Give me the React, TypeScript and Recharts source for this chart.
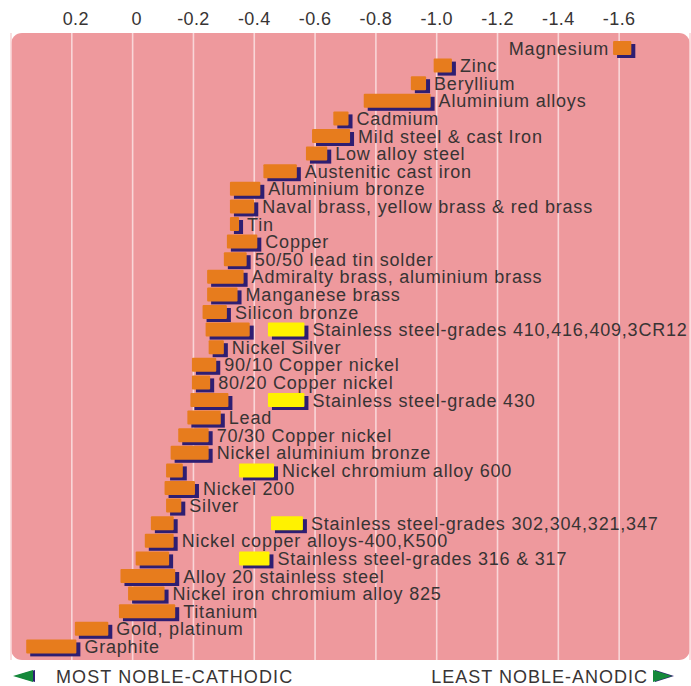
import React from 'react';
import { BarChart, Bar, XAxis, YAxis, CartesianGrid } from 'recharts';

const MATERIALS = [
  'Magnesium',
  'Zinc',
  'Beryllium',
  'Aluminium alloys',
  'Cadmium',
  'Mild steel & cast Iron',
  'Low alloy steel',
  'Austenitic cast iron',
  'Aluminium bronze',
  'Naval brass, yellow brass & red brass',
  'Tin',
  'Copper',
  '50/50 lead tin solder',
  'Admiralty brass, aluminium brass',
  'Manganese brass',
  'Silicon bronze',
  'Stainless steel-grades 410,416,409,3CR12',
  'Nickel Silver',
  '90/10 Copper nickel',
  '80/20 Copper nickel',
  'Stainless steel-grade 430',
  'Lead',
  '70/30 Copper nickel',
  'Nickel aluminium bronze',
  'Nickel chromium alloy 600',
  'Nickel 200',
  'Silver',
  'Stainless steel-grades 302,304,321,347',
  'Nickel copper alloys-400,K500',
  'Stainless steel-grades 316 & 317',
  'Alloy 20 stainless steel',
  'Nickel iron chromium alloy 825',
  'Titanium',
  'Gold, platinum',
  'Graphite',
];

// Potential range (V), noble end
const RANGE_START = [
  -1.58, -0.99, -0.915, -0.76, -0.66, -0.59, -0.57, -0.43, -0.32, -0.32,
  -0.32, -0.31, -0.30, -0.245, -0.245, -0.23, -0.24, -0.25, -0.195, -0.195,
  -0.19, -0.18, -0.15, -0.125, -0.11, -0.105, -0.11, -0.06, -0.04, -0.01,
  0.04, 0.015, 0.045, 0.19, 0.35,
];
// Potential range (V), active end
const RANGE_END = [
  -1.64, -1.05, -0.965, -0.98, -0.71, -0.715, -0.64, -0.54, -0.42, -0.40,
  -0.35, -0.41, -0.375, -0.365, -0.345, -0.31, -0.385, -0.30, -0.275, -0.255,
  -0.315, -0.29, -0.25, -0.25, -0.165, -0.205, -0.16, -0.135, -0.135, -0.12,
  -0.14, -0.105, -0.14, 0.08, 0.185,
];
// Active (crevice) state of stainless steels
const ACTIVE_START: (number | null)[] = [
  null, null, null, null, null, null, null, null, null, null,
  null, null, null, null, null, null, -0.445, null, null, null,
  -0.445, null, null, null, -0.35, null, null, -0.455, null, -0.35,
  null, null, null, null, null,
];
const ACTIVE_END: (number | null)[] = [
  null, null, null, null, null, null, null, null, null, null,
  null, null, null, null, null, null, -0.565, null, null, null,
  -0.565, null, null, null, -0.465, null, null, -0.56, null, -0.45,
  null, null, null, null, null,
];

const TICK_VALUES = [0.2, 0, -0.2, -0.4, -0.6, -0.8, -1.0, -1.2, -1.4, -1.6];
const TICK_LABELS = ['0.2', '0', '-0.2', '-0.4', '-0.6', '-0.8', '-1.0', '-1.2', '-1.4', '-1.6'];

const LEFT_CAPTION = 'MOST NOBLE-CATHODIC';
const RIGHT_CAPTION = 'LEAST NOBLE-ANODIC';

const data = MATERIALS.map((name, i) => ({
  name,
  passive: [RANGE_START[i], RANGE_END[i]],
  active: ACTIVE_START[i] == null ? null : [ACTIVE_START[i], ACTIVE_END[i]],
}));

const FONT = '"Liberation Sans", Arial, Helvetica, sans-serif';
const PANEL = '#EE999D';
const ORANGE = '#E77C1D';
const YELLOW = '#FFF200';
const SHADOW = '#2E1E72';
const TEXT = '#383434';
const GREEN = '#14893A';

const makeShape = (fill: string, kind: 'passive' | 'active') => (props: any) => {
  const { x, y, width, height } = props;
  const payload = props.payload || props;
  if (x == null || y == null || !payload || !payload[kind]) return <g />;
  const left = Math.min(x, x + width);
  const w = Math.abs(width);
  const cy = y + height / 2;
  const showLabel = kind === 'active' ? true : !payload.active;
  let label: React.ReactNode = null;
  if (showLabel) {
    const right = left + w;
    const common = {
      y: cy + 6.5,
      fill: TEXT,
      fontSize: 18,
      fontFamily: FONT,
      letterSpacing: 0.8,
    };
    label =
      right > 560 ? (
        <text x={left - 4} textAnchor="end" {...common}>
          {payload.name}
        </text>
      ) : (
        <text x={right + 8} textAnchor="start" {...common}>
          {payload.name}
        </text>
      );
  }
  return (
    <g>
      <rect x={left + 4} y={y + 3} width={w} height={height} fill={SHADOW} />
      <rect x={left} y={y} width={w} height={height} fill={fill} rx={1} />
      {label}
    </g>
  );
};

const TopTick = (props: any) => {
  const { x, y, payload } = props;
  const idx = TICK_VALUES.indexOf(payload.value);
  const text = idx >= 0 ? TICK_LABELS[idx] : String(payload.value);
  const dx = payload.value >= 0 ? 4 : 0;
  return (
    <text
      x={x + dx}
      y={y}
      textAnchor="middle"
      fill={TEXT}
      fontSize={18}
      fontFamily={FONT}
      letterSpacing={0.4}
    >
      {text}
    </text>
  );
};

export default function App() {
  return (
    <div
      style={{
        position: 'absolute',
        left: 0,
        top: 0,
        width: 691,
        height: 686,
        background: '#ffffff',
        overflow: 'hidden',
      }}
    >
      <div
        style={{
          position: 'absolute',
          left: 11,
          top: 33,
          width: 679,
          height: 627,
          background: PANEL,
          borderRadius: 11,
        }}
      />
      <div style={{ position: 'absolute', left: 0, top: 0 }}>
        <BarChart
          width={691}
          height={686}
          data={data}
          layout="vertical"
          margin={{ top: 0, right: 1, bottom: 26, left: 11 }}
        >
          <CartesianGrid
            horizontal={false}
            vertical={true}
            stroke="#F9D6D8"
            strokeWidth={1.6}
          />
          <XAxis
            type="number"
            orientation="top"
            domain={[-1.833, 0.4]}
            reversed
            allowDataOverflow
            ticks={TICK_VALUES}
            interval={0}
            axisLine={false}
            tickLine={false}
            height={33}
            tick={<TopTick />}
          />
          <YAxis
            yAxisId="p"
            type="category"
            dataKey="name"
            hide
            padding={{ top: 6, bottom: 5 }}
          />
          <YAxis
            yAxisId="a"
            type="category"
            dataKey="name"
            hide
            padding={{ top: 6, bottom: 5 }}
          />
          <Bar
            yAxisId="p"
            dataKey="passive"
            barSize={14}
            fill={ORANGE}
            isAnimationActive={false}
            shape={makeShape(ORANGE, 'passive')}
          />
          <Bar
            yAxisId="a"
            dataKey="active"
            barSize={14}
            fill={YELLOW}
            isAnimationActive={false}
            shape={makeShape(YELLOW, 'active')}
          />
        </BarChart>
      </div>
      <svg
        width={691}
        height={686}
        style={{ position: 'absolute', left: 0, top: 0, pointerEvents: 'none' }}
      >
        <polygon points="35,670 35,682 15,676" fill={SHADOW} />
        <polygon points="33,670 33,682 13,676" fill={GREEN} />
        <text x={56} y={683} fill={TEXT} fontSize={18} fontFamily={FONT} letterSpacing={1.1}>
          {LEFT_CAPTION}
        </text>
        <text
          x={648}
          y={683}
          fill={TEXT}
          fontSize={18}
          fontFamily={FONT}
          letterSpacing={1.0}
          textAnchor="end"
        >
          {RIGHT_CAPTION}
        </text>
        <polygon points="655,670 655,682 674,676" fill={SHADOW} />
        <polygon points="653,670 653,682 672,676" fill={GREEN} />
      </svg>
    </div>
  );
}
